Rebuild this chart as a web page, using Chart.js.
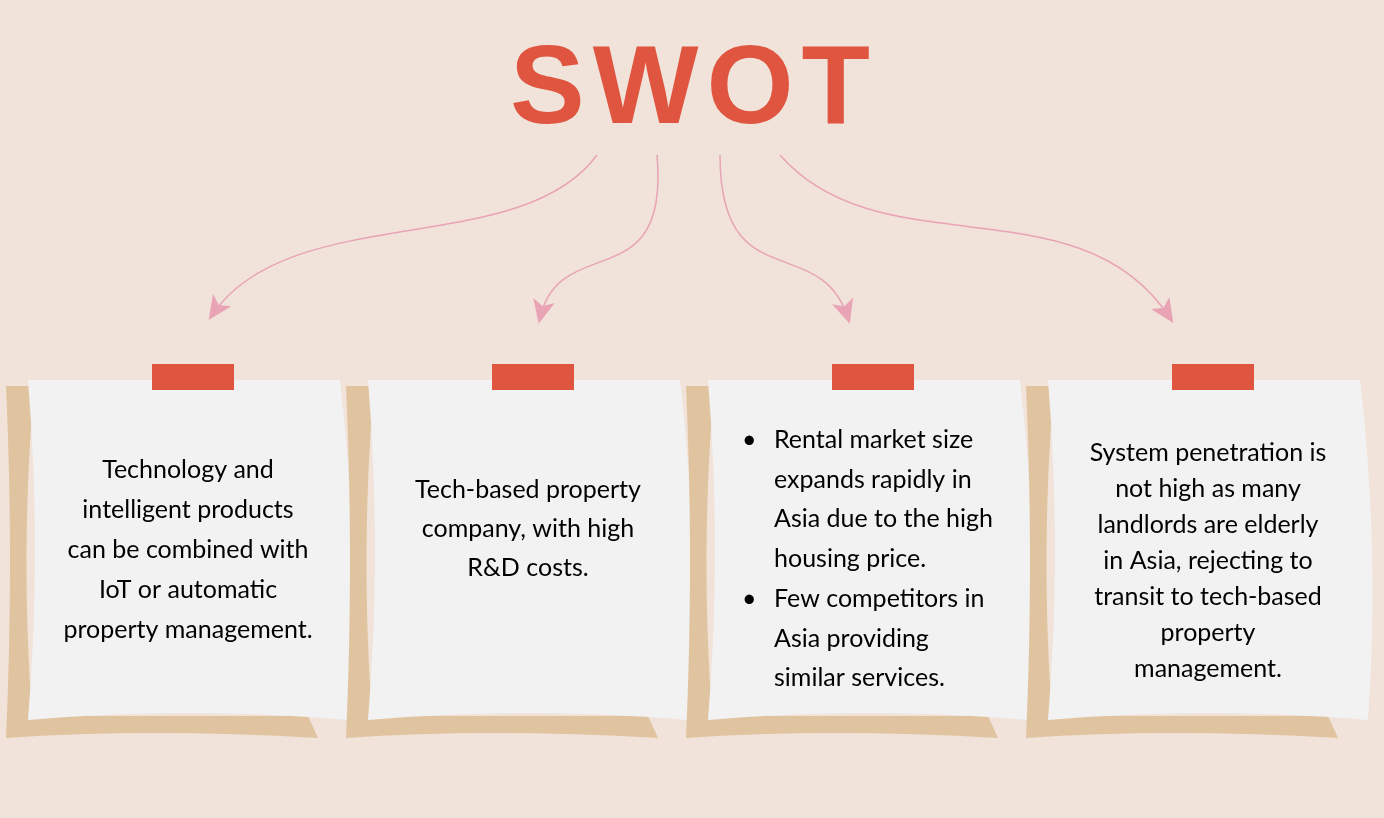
<!DOCTYPE html>
<html>
<head>
<meta charset="utf-8">
<script src="https://cdn.jsdelivr.net/npm/chart.js@4.4.0/dist/chart.umd.min.js"></script>
<style>
  html, body { margin: 0; padding: 0; background: #f1e3da; }
  #wrap { width: 1384px; height: 818px; }
</style>
</head>
<body>
<div id="wrap"><canvas id="chart" width="1384" height="818"></canvas></div>
<script>
const title = 'SWOT';
const quadrants = ['Strengths', 'Weaknesses', 'Opportunities', 'Threats'];
const cardText = [
  ['Technology and', 'intelligent products', 'can be combined with', 'IoT or automatic', 'property management.'],
  ['Tech-based property', 'company, with high', 'R&D costs.'],
  [['Rental market size', 'expands rapidly in', 'Asia due to the high', 'housing price.'],
   ['Few competitors in', 'Asia providing', 'similar services.']],
  ['System penetration is', 'not high as many', 'landlords are elderly', 'in Asia, rejecting to', 'transit to tech-based', 'property', 'management.']
];

const RED = '#e05540';
const TAN = '#e0c4a0';
const CARD = '#f2f2f2';
const PINK = '#e8a3b5';
const FONT = '25px Lato, "Open Sans", sans-serif';

function drawArrow(ctx, p0, c1, c2, p1) {
  ctx.strokeStyle = PINK;
  ctx.lineWidth = 1.5;
  ctx.beginPath();
  ctx.moveTo(p0[0], p0[1]);
  ctx.bezierCurveTo(c1[0], c1[1], c2[0], c2[1], p1[0], p1[1]);
  ctx.stroke();
  // arrowhead along the final tangent
  const a = Math.atan2(p1[1] - c2[1], p1[0] - c2[0]);
  const L = 24, W = 11;
  ctx.fillStyle = PINK;
  ctx.save();
  ctx.translate(p1[0], p1[1]);
  ctx.rotate(a);
  ctx.beginPath();
  ctx.moveTo(6, 0);
  ctx.lineTo(-L + 6, -W);
  ctx.lineTo(-L + 12, 0);
  ctx.lineTo(-L + 6, W);
  ctx.closePath();
  ctx.fill();
  ctx.restore();
}

function drawCard(ctx, cx) {
  const l = cx - 160, r = cx + 160, t = 380, b = 720;
  // tan backing: left curl and bottom curl
  ctx.fillStyle = TAN;
  ctx.beginPath();
  ctx.moveTo(l - 22, 386);
  ctx.lineTo(l + 6, 386);
  ctx.quadraticCurveTo(l - 8, 550, l + 4, 716);
  ctx.lineTo(r - 40, 716);
  ctx.lineTo(r - 30, 738);
  ctx.quadraticCurveTo(cx - 40, 728, l - 22, 738);
  ctx.quadraticCurveTo(l - 14, 560, l - 22, 386);
  ctx.closePath();
  ctx.fill();
  // white card with slightly curved sides
  ctx.fillStyle = CARD;
  ctx.beginPath();
  ctx.moveTo(l, t);
  ctx.lineTo(r - 8, t);
  ctx.quadraticCurveTo(r + 12, 550, r, b);
  ctx.quadraticCurveTo(cx, 706, l, b);
  ctx.quadraticCurveTo(l + 14, 550, l, t);
  ctx.closePath();
  ctx.fill();
  // red tab
  ctx.fillStyle = RED;
  ctx.fillRect(cx - 36, 364, 82, 26);
}

const swotPlugin = {
  id: 'swot',
  beforeDraw(chart) {
    const ctx = chart.ctx;
    const xs = chart.scales.x;
    ctx.save();
    ctx.fillStyle = '#f1e3da';
    ctx.fillRect(0, 0, chart.width, chart.height);

    // title
    ctx.fillStyle = RED;
    ctx.font = 'bold 112px "Liberation Sans", "DejaVu Sans", sans-serif';
    ctx.letterSpacing = '8px';
    ctx.textAlign = 'center';
    ctx.textBaseline = 'alphabetic';
    ctx.fillText(title, 694, 123);
    ctx.letterSpacing = '0px';

    // arrows
    drawArrow(ctx, [597, 155], [520, 260], [290, 200], [212, 315]);
    drawArrow(ctx, [657, 155], [670, 300], [560, 230], [540, 318]);
    drawArrow(ctx, [720, 155], [720, 300], [820, 230], [848, 318]);
    drawArrow(ctx, [780, 155], [880, 270], [1080, 180], [1170, 318]);

    quadrants.forEach((q, i) => drawCard(ctx, xs.getPixelForValue(i)));

    // texts
    ctx.fillStyle = '#000';
    ctx.font = FONT;
    ctx.textBaseline = 'middle';
    const c0 = xs.getPixelForValue(0), c1 = xs.getPixelForValue(1);
    const c2 = xs.getPixelForValue(2), c3 = xs.getPixelForValue(3);
    ctx.textAlign = 'center';
    cardText[0].forEach((s, k) => ctx.fillText(s, c0, 470 + k * 40));
    cardText[1].forEach((s, k) => ctx.fillText(s, c1, 490 + k * 39));
    cardText[3].forEach((s, k) => ctx.fillText(s, c3, 453 + k * 36));
    ctx.textAlign = 'left';
    let y = 440;
    cardText[2].forEach(group => {
      ctx.fillText('•', c2 - 126, y);
      group.forEach(s => { ctx.fillText(s, c2 - 94, y); y += 39.5; });
      y += 1;
    });
    ctx.restore();
  }
};

new Chart(document.getElementById('chart').getContext('2d'), {
  type: 'bar',
  data: { labels: quadrants, datasets: [{ data: [0, 0, 0, 0] }] },
  options: {
    responsive: false,
    animation: false,
    layout: { padding: { left: 18, right: 6, top: 0, bottom: 0 } },
    plugins: { legend: { display: false }, tooltip: { enabled: false } },
    scales: {
      x: { display: false, offset: true },
      y: { display: false, min: 0, max: 1 }
    }
  },
  plugins: [swotPlugin]
});
</script>
</body>
</html>
